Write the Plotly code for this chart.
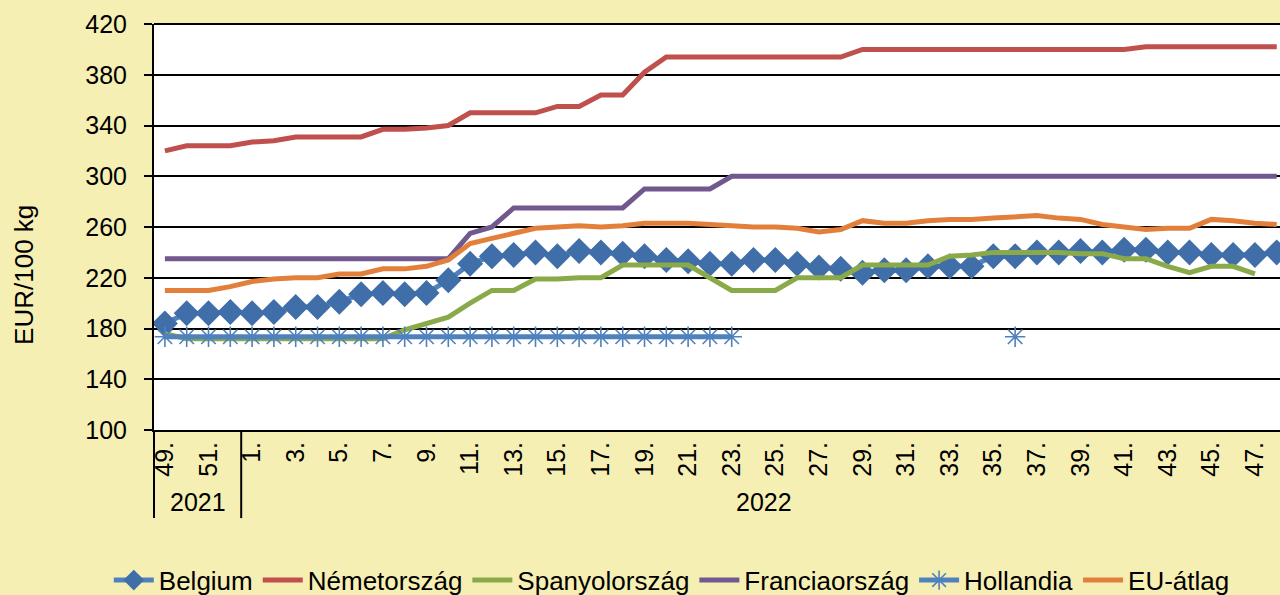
import plotly.graph_objects as go

weeks = ["49.", "50.", "51.", "52."] + [f"{i}." for i in range(1, 49)]
tick_labels = ["49.", "51."] + [f"{i}." for i in range(1, 49, 2)]
years = ["2021", "2022"]

belgium = [184, 192, 192, 193, 192, 193, 197, 197, 201, 207, 208, 207, 208, 218,
           231, 237, 238, 240, 237, 241, 240, 239, 237, 234, 233, 231, 231, 234,
           234, 231, 228, 227, 224, 226, 226, 229, 229, 229, 237, 237, 240, 240,
           241, 240, 242, 242, 240, 240, 238, 238, 238, 240]
nemet = [320, 324, 324, 324, 327, 328, 331, 331, 331, 331, 337, 337, 338, 340,
         350, 350, 350, 350, 355, 355, 364, 364, 382, 394, 394, 394, 394, 394,
         394, 394, 394, 394, 400, 400, 400, 400, 400, 400, 400, 400, 400, 400,
         400, 400, 400, 402, 402, 402, 402, 402, 402, 402]
spanyol = [176, 172, 172, 172, 172, 172, 172, 172, 172, 172, 172, 179, 184, 189,
           200, 210, 210, 219, 219, 220, 220, 230, 230, 230, 230, 220, 210, 210,
           210, 220, 220, 220, 230, 230, 230, 230, 237, 238, 240, 240, 240, 240,
           239, 239, 235, 235, 229, 224, 229, 229, 223, None]
francia = [235] * 14 + [255, 260] + [275] * 6 + [290] * 4 + [300] * 26
hollandia = [173.5] * 27 + [None] * 12 + [173.5] + [None] * 12
eu = [210, 210, 210, 213, 217, 219, 220, 220, 223, 223, 227, 227, 229, 234,
      247, 251, 255, 259, 260, 261, 260, 261, 263, 263, 263, 262, 261, 260,
      260, 259, 256, 258, 265, 263, 263, 265, 266, 266, 267, 268, 269, 267,
      266, 262, 260, 258, 259, 259, 266, 265, 263, 262]

font = "Liberation Sans, Arial, sans-serif"
paper = "#F6EFB4"
fig = go.Figure()
fig.add_trace(go.Scatter(x=weeks, y=belgium, name="Belgium", mode="lines+markers",
                         line=dict(color="#4F81BD", width=5),
                         marker=dict(symbol="diamond", size=20, color="#3F6EA8")))
fig.add_trace(go.Scatter(x=weeks, y=nemet, name="Németország", mode="lines",
                         line=dict(color="#C0504D", width=5)))
fig.add_trace(go.Scatter(x=weeks, y=spanyol, name="Spanyolország", mode="lines",
                         line=dict(color="#8AAA4A", width=5)))
fig.add_trace(go.Scatter(x=weeks, y=francia, name="Franciaország", mode="lines",
                         line=dict(color="#71588F", width=5)))
fig.add_trace(go.Scatter(x=weeks, y=hollandia, name="Hollandia", mode="lines+markers",
                         line=dict(color="#4F81BD", width=5),
                         marker=dict(symbol="asterisk-open", size=17,
                                     line=dict(color="#4BACC6", width=1.6))))
fig.add_trace(go.Scatter(x=weeks, y=eu, name="EU-átlag", mode="lines",
                         line=dict(color="#E2803B", width=5)))

fig.update_layout(
    width=1280, height=595,
    margin=dict(l=154, r=0, t=24, b=165, autoexpand=False),
    paper_bgcolor=paper, plot_bgcolor="white",
    font=dict(family=font, size=25, color="black"),
    showlegend=True,
    legend=dict(orientation="h", xref="container", yref="container",
                x=0.085, xanchor="left", y=0.025, yanchor="middle",
                font=dict(size=26), itemwidth=40, tracegroupgap=0,
                bgcolor="rgba(0,0,0,0)"),
)
fig.update_xaxes(type="category", categoryorder="array", categoryarray=weeks,
                 range=[-0.5, 51.15], tickmode="array", tickvals=tick_labels,
                 ticktext=tick_labels, tickangle=-90, showgrid=False,
                 showline=True, linecolor="black", linewidth=2, ticks="",
                 automargin=False, tickfont=dict(size=25))
fig.update_yaxes(range=[100, 420], tickvals=list(range(100, 421, 40)),
                 showgrid=True, gridcolor="black", gridwidth=2,
                 showline=True, linecolor="black", linewidth=2,
                 ticks="outside", ticklen=8, tickwidth=2, tickcolor="black",
                 ticklabelstandoff=12, automargin=False,
                 zeroline=False, tickfont=dict(size=25))

# year separators and labels
fig.add_shape(type="line", xref="paper", yref="paper", x0=0, x1=0, y0=0, y1=-0.217,
              line=dict(color="black", width=2))
fig.add_shape(type="line", xref="x", yref="paper", x0=3.5, x1=3.5, y0=0, y1=-0.217,
              line=dict(color="black", width=2))
fig.add_shape(type="line", xref="paper", yref="paper", x0=0, x1=1, y0=1, y1=1,
              line=dict(color="black", width=2))
fig.add_annotation(x=1.5, xref="x", y=-0.177, yref="paper", yanchor="middle",
                   text=years[0], showarrow=False, font=dict(size=25))
fig.add_annotation(x=27.5, xref="x", y=-0.177, yref="paper", yanchor="middle",
                   text=years[1], showarrow=False, font=dict(size=25))
fig.add_annotation(x=-(154 - 24) / 1126, xref="paper", y=0.382, yref="paper",
                   xanchor="center", yanchor="middle",
                   text="EUR/100 kg", textangle=-90, showarrow=False,
                   font=dict(size=26))

fig.write_html("out.html", config={"displayModeBar": False},
               post_script=f"document.body.style.margin='0px';document.body.style.background='{paper}';")
